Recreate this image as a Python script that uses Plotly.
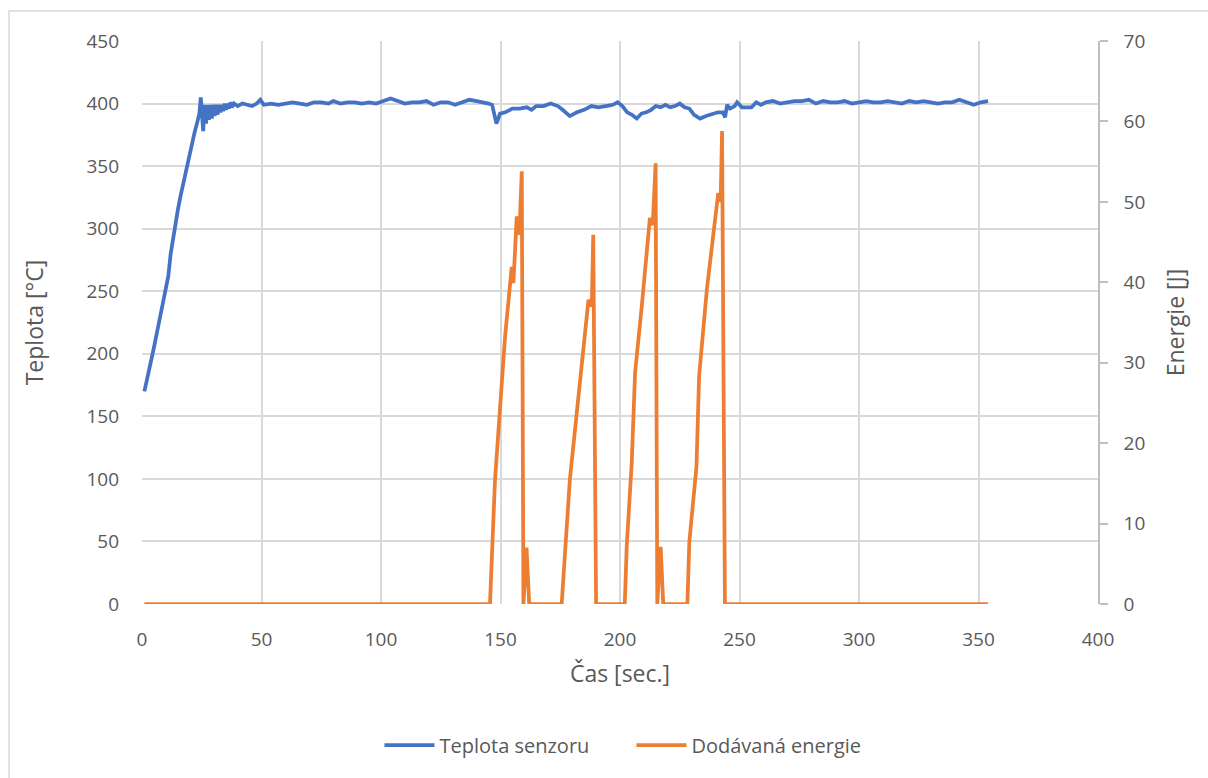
import plotly.graph_objects as go

# Sensor temperature [°C] over time [s]
temp_time = [1, 3, 5, 7, 9, 10, 11, 12, 13, 14, 15, 16, 17, 18, 19, 20, 21, 22, 23, 24,
             24.6, 25.2, 25.6, 26.2, 26.8, 27.4, 28.0, 28.6, 29.2, 29.8, 30.4, 31.0, 31.6,
             32.2, 32.8, 33.4, 34.0, 34.6, 35.2, 35.8, 36.4, 37.0, 37.6, 38.5, 40, 42, 44,
             46, 48, 49.5, 51, 54, 57, 60, 63, 66, 69, 72, 75, 78, 80, 83, 86, 89, 92, 95,
             98, 101, 104, 107, 110, 113, 116, 119, 122, 125, 128, 131, 134, 137, 140, 143,
             145, 146.5, 148.3, 149.8, 152, 155, 158, 161, 163, 165, 168, 171, 174, 176, 179,
             182, 185, 188, 191, 194, 197, 199, 201, 203, 205, 207, 209, 211, 213, 215, 217,
             219, 221, 223, 225, 227, 229, 231, 233.5, 236, 239, 241, 243, 244, 244.8, 246,
             248, 249, 251, 253, 255, 257, 259, 261, 264, 267, 270, 273, 276, 279, 282, 285,
             288, 291, 294, 297, 300, 303, 306, 309, 312, 315, 318, 321, 324, 327, 330, 333,
             336, 339, 342, 345, 348, 351, 354]
temp_value = [170, 186, 205, 224, 243, 255, 262, 280, 293, 305, 315, 325, 334, 341, 350, 362,
              370, 377, 384, 392,
              405, 390, 378, 399, 384, 399, 387, 399, 388, 399, 390, 399, 391,
              399, 393, 399, 394, 400, 395, 400, 396, 401, 397, 400, 398, 400, 399,
              398, 400, 403, 399, 400, 399, 400, 401, 400, 399, 401, 401, 400, 402, 400, 401,
              401, 400, 401,
              400, 402, 404, 402, 400, 401, 401, 402, 399, 401, 401, 399, 401, 403, 402, 401,
              400, 399, 384, 392, 393, 396, 396, 397, 395, 398, 398, 400, 398, 395, 390,
              393, 395, 398, 397, 398, 399, 401, 398, 393, 391, 388, 392, 393, 395, 398, 397,
              399, 397, 398, 400, 397, 396, 391, 388, 390, 392, 393, 393, 389, 399, 396,
              398, 401, 397, 397, 397, 401, 399, 401, 402, 400, 401, 402, 402, 403, 400, 402,
              401, 401, 402, 400, 401, 402, 401, 401, 402, 401, 400, 402, 401, 402, 401, 400,
              401, 401, 403, 401, 399, 401, 402]

# Supplied energy [J] over time [s]
energy_time = [1, 145.6, 147.7, 149.8, 151.9, 154.7, 155.4, 156.8, 157.9, 158.9, 159.6, 160.9,
               162.0, 175.6, 179.0, 186.8, 188.2, 188.8, 190.0, 202.0, 202.8, 204.9, 206.3,
               209.1, 212.5, 213.7, 214.9, 215.6, 217.0, 218.1, 228.2, 229.0, 232.0, 233.1,
               236.3, 241.1, 242.1, 242.7, 243.9, 354]
energy_value = [0, 0, 15.4, 25, 33.2, 41.9, 39.9, 48.2, 45.9, 53.8, 0, 7.0,
                0, 0, 15.4, 37.8, 37.0, 45.9, 0, 0, 7.1, 17.5, 28.7,
                37.0, 48.0, 47.1, 54.8, 0, 7.1, 0, 0, 7.7, 17.1, 28.3,
                39.0, 51.1, 50.0, 58.8, 0, 0]

x_ticks = [0, 50, 100, 150, 200, 250, 300, 350, 400]
temp_ticks = [0, 50, 100, 150, 200, 250, 300, 350, 400, 450]
energy_ticks = [0, 10, 20, 30, 40, 50, 60, 70]

FONT = "Open Sans"
TXT = "#595959"
GRID = "#d9d9d9"
AXIS = "#bfbfbf"

fig = go.Figure()
fig.add_trace(go.Scatter(
    x=temp_time, y=temp_value, mode="lines", name="Teplota senzoru",
    line=dict(color="#4472C4", width=3.75)))
fig.add_trace(go.Scatter(
    x=energy_time, y=energy_value, mode="lines", name="Dodávaná energie",
    line=dict(color="#ED7D31", width=3.75), yaxis="y2"))

W, H = 1208, 778
L, R, T, B = 142, 110, 41, 174
pw, ph = W - L - R, H - T - B

def px_x(p):
    return (p - L) / pw

def px_y(p):
    return (H - B - p) / ph

fig.update_layout(
    width=W, height=H,
    margin=dict(l=L, r=R, t=T, b=B),
    paper_bgcolor="white", plot_bgcolor="white",
    font=dict(family=FONT, size=19, color=TXT),
    showlegend=True,
    legend=dict(orientation="h", x=0.512, xanchor="center", y=px_y(745), yanchor="middle",
                font=dict(size=20, color=TXT), itemwidth=50, entrywidth=187, tracegroupgap=0),
    xaxis=dict(range=[0, 400], tickvals=x_ticks, showgrid=True, gridcolor=GRID, gridwidth=1.5,
               zeroline=False, showline=False, ticks="", ticklabelstandoff=22,
               tickfont=dict(size=19),
               title=dict(text="Čas [sec.]", font=dict(size=23, color=TXT), standoff=14)),
    yaxis=dict(range=[0, 450], tickvals=temp_ticks, showgrid=True, gridcolor=GRID, gridwidth=1.5,
               zeroline=False, showline=False, ticks="", ticklabelstandoff=22,
               tickfont=dict(size=19),
               title=dict(text="Teplota [°C]", font=dict(size=23, color=TXT), standoff=36)),
    yaxis2=dict(range=[0, 70], tickvals=energy_ticks, overlaying="y", side="right",
                showgrid=False, zeroline=False, showline=True, linecolor=AXIS, linewidth=1.5,
                ticks="outside", ticklen=8, tickcolor=AXIS, tickwidth=1.5, ticklabelstandoff=12,
                tickfont=dict(size=19),
                title=dict(text="Energie [J]", font=dict(size=23, color=TXT), standoff=24)),
    shapes=[dict(type="rect", xref="paper", yref="paper",
                 x0=px_x(9), x1=px_x(1220), y0=px_y(800), y1=px_y(11),
                 line=dict(color=GRID, width=1.5), fillcolor="rgba(0,0,0,0)", layer="below")],
)

fig.write_html("out.html")
